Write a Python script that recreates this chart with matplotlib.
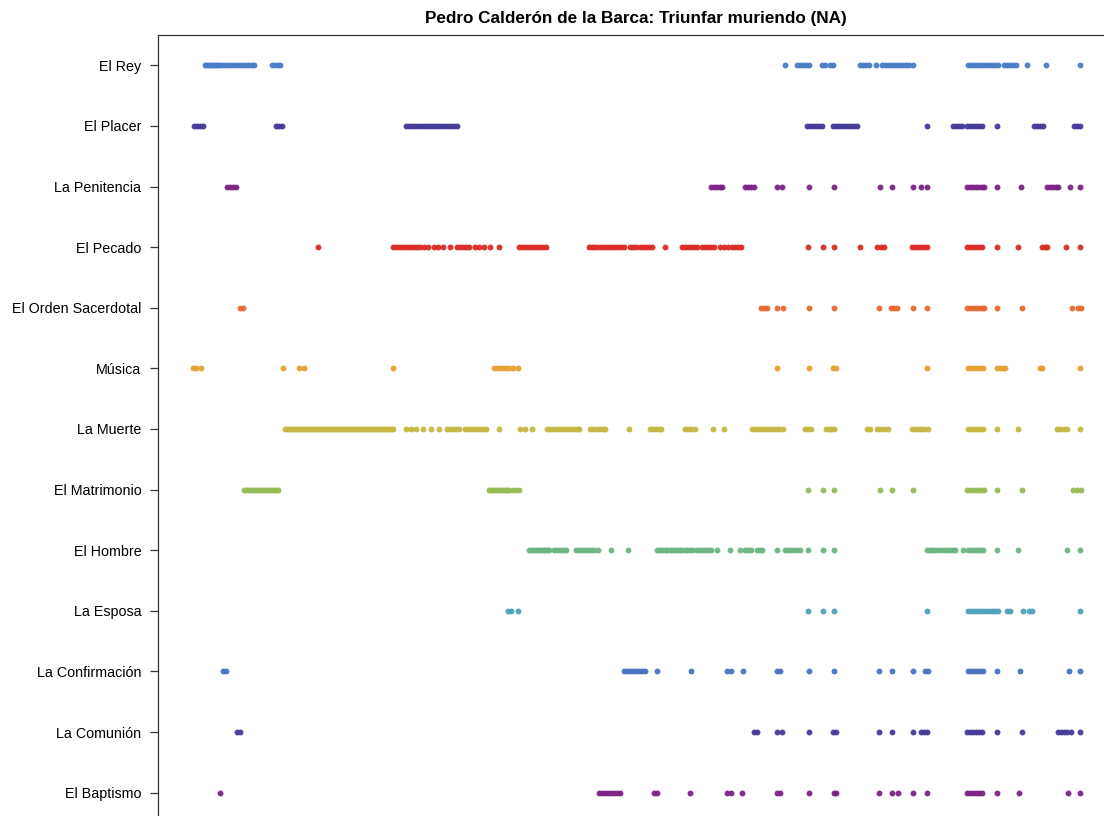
import matplotlib.pyplot as plt

plt.rcParams['font.family'] = ['Liberation Sans', 'DejaVu Sans']

# characters, top to bottom
personajes = ["El Rey", "El Placer", "La Penitencia", "El Pecado",
              "El Orden Sacerdotal", "Música", "La Muerte", "El Matrimonio",
              "El Hombre", "La Esposa", "La Confirmación", "La Comunión",
              "El Baptismo"]

colores = ["#4a7bc4", "#443a98", "#7b2385", "#dc2a26", "#e8692e", "#e5a032",
           "#c4b842", "#96bc56", "#6eb482", "#4fa0bb", "#4b72c0", "#443a98",
           "#7b2385"]

# positions in the text where each character speaks
el_rey = [205, 207, 209, 211, 213, 215, 217, 219, 222, 225, 228, 231, 234, 237,
          240, 243, 246, 249, 252, 254, 272, 275, 278, 280, 785, 797, 800, 803,
          806, 809, 822, 825, 830, 833, 860, 863, 866, 869, 876, 882, 885, 888,
          891, 894, 897, 900, 903, 906, 909, 913, 968, 971, 974, 977, 980, 983,
          986, 989, 992, 995, 998, 1004, 1007, 1010, 1013, 1016, 1027, 1046, 1080]
el_placer = [194, 197, 200, 203, 276, 279, 282, 406, 409, 412, 415, 418, 421,
             424, 427, 430, 433, 436, 439, 442, 445, 448, 451, 454, 457, 807,
             810, 813, 816, 819, 822, 833, 836, 839, 842, 845, 848, 851, 854,
             857, 927, 953, 956, 959, 962, 967, 970, 973, 976, 979, 982, 997,
             1034, 1037, 1040, 1043, 1074, 1077, 1080]
la_penitencia = [227, 230, 233, 236, 711, 714, 717, 720, 722, 745, 748, 751,
                 754, 777, 782, 809, 834, 880, 892, 913, 921, 927, 967, 970,
                 973, 976, 979, 982, 984, 997, 1021, 1047, 1050, 1053, 1056,
                 1058, 1070, 1080]
el_pecado = [318, 393, 396, 399, 402, 405, 408, 411, 414, 417, 420, 424, 428,
             434, 438, 443, 450, 457, 460, 463, 466, 469, 475, 479, 484, 490,
             499, 519, 522, 525, 528, 531, 534, 537, 540, 543, 546, 589, 592,
             594, 597, 600, 603, 606, 609, 612, 615, 618, 621, 624, 630, 633,
             636, 640, 643, 646, 649, 652, 665, 682, 685, 688, 691, 694, 697,
             702, 705, 708, 711, 714, 720, 724, 728, 732, 735, 738, 741, 808,
             823, 834, 860, 877, 881, 884, 912, 915, 918, 921, 924, 927, 967,
             970, 973, 976, 979, 982, 997, 1018, 1042, 1045, 1047, 1066, 1080]
el_orden = [240, 243, 761, 764, 767, 777, 783, 809, 834, 879, 891, 894, 897,
            913, 927, 967, 970, 973, 976, 979, 982, 984, 997, 1022, 1072, 1078,
            1081]
musica = [193, 196, 201, 283, 299, 304, 393, 494, 497, 500, 503, 506, 509, 513,
          518, 777, 809, 833, 836, 927, 968, 971, 974, 977, 980, 983, 997,
          1000, 1003, 1005, 1040, 1042, 1080]
la_muerte = [285, 287, 289, 291, 293, 295, 297, 299, 301, 303, 305, 307, 309,
             311, 313, 315, 317, 319, 321, 323, 325, 327, 329, 331, 333, 335,
             337, 339, 341, 343, 345, 347, 349, 351, 353, 355, 357, 359, 361,
             363, 365, 367, 369, 371, 373, 375, 377, 379, 381, 383, 385, 387,
             389, 391, 393, 406, 411, 416, 423, 431, 439, 447, 450, 453, 456,
             459, 465, 468, 471, 474, 477, 480, 483, 486, 499, 520, 525, 532,
             547, 550, 553, 556, 559, 562, 565, 568, 571, 574, 577, 579, 590,
             593, 597, 600, 603, 605, 629, 650, 653, 656, 659, 661, 685, 688,
             691, 695, 713, 724, 752, 755, 758, 761, 764, 767, 770, 773, 776,
             779, 783, 805, 808, 811, 826, 829, 831, 834, 867, 870, 877, 880,
             884, 888, 912, 915, 918, 921, 924, 928, 968, 971, 974, 977, 980,
             983, 997, 1018, 1057, 1060, 1064, 1067, 1080]
el_matrimonio = [244, 246, 248, 250, 252, 254, 256, 258, 260, 262, 264, 266,
                 268, 270, 272, 274, 276, 278, 489, 491, 493, 495, 497, 499,
                 501, 503, 505, 507, 509, 513, 516, 519, 808, 823, 834, 880,
                 892, 913, 967, 970, 973, 976, 979, 982, 984, 997, 1022, 1073,
                 1077, 1081]
el_hombre = [529, 531, 533, 535, 537, 539, 541, 543, 545, 547, 549, 554, 557,
             560, 563, 566, 576, 579, 582, 585, 588, 591, 594, 598, 611, 628,
             657, 660, 662, 665, 667, 670, 672, 675, 677, 680, 682, 685, 687,
             690, 692, 696, 699, 702, 705, 708, 711, 717, 730, 740, 745, 748,
             751, 757, 760, 762, 777, 785, 788, 791, 794, 797, 800, 808, 823,
             834, 927, 930, 932, 935, 938, 941, 944, 947, 950, 953, 955, 963,
             968, 971, 974, 977, 980, 983, 997, 1018, 1067, 1080]
la_esposa = [508, 511, 518, 808, 823, 834, 927, 968, 971, 974, 977, 980, 983,
             986, 989, 992, 995, 998, 1007, 1010, 1023, 1029, 1032, 1080]
la_confirmacion = [223, 226, 624, 627, 630, 633, 636, 639, 642, 645, 657, 691,
                   727, 731, 743, 777, 780, 809, 834, 879, 892, 913, 925, 928,
                   968, 971, 974, 977, 980, 983, 997, 1020, 1069, 1080]
la_comunion = [237, 240, 754, 757, 777, 782, 809, 833, 836, 879, 892, 913, 921,
               924, 927, 967, 970, 973, 976, 979, 982, 997, 1022, 1058, 1061,
               1064, 1067, 1071, 1080]
el_baptismo = [220, 599, 602, 605, 608, 611, 614, 617, 620, 654, 657, 690, 727,
               731, 742, 777, 780, 809, 834, 836, 879, 892, 898, 913, 927, 967,
               970, 973, 976, 979, 982, 997, 1019, 1068, 1080]

series = [el_rey, el_placer, la_penitencia, el_pecado, el_orden, musica,
          la_muerte, el_matrimonio, el_hombre, la_esposa, la_confirmacion,
          la_comunion, el_baptismo]

fig = plt.figure(figsize=(11.04, 8.16), dpi=100)
# frame runs past the right and bottom edges of the canvas
ax = fig.add_axes([158 / 1104, 1 - 823 / 816, 954 / 1104, 788 / 816])

for i, (xs, col) in enumerate(zip(series, colores)):
    ax.scatter(xs, [i] * len(xs), s=18, color=col, linewidths=0, alpha=0.95)

ax.set_xlim(158, 1112)
ax.set_ylim(len(personajes) - 0.5, -0.5)
ax.set_yticks(range(len(personajes)))
ax.set_yticklabels(personajes, fontsize=10.3)
ax.set_xticks([])
ax.tick_params(axis='y', length=6, width=0.9, color='#333333', pad=6)
for sp in ax.spines.values():
    sp.set_color('#333333')
    sp.set_linewidth(0.9)

fig.text(636 / 1104, 1 - 19 / 816,
         "Pedro Calderón de la Barca: Triunfar muriendo (NA)",
         ha='center', va='center', fontsize=12.3, fontweight='bold')

fig.savefig('out.png', dpi=100)
